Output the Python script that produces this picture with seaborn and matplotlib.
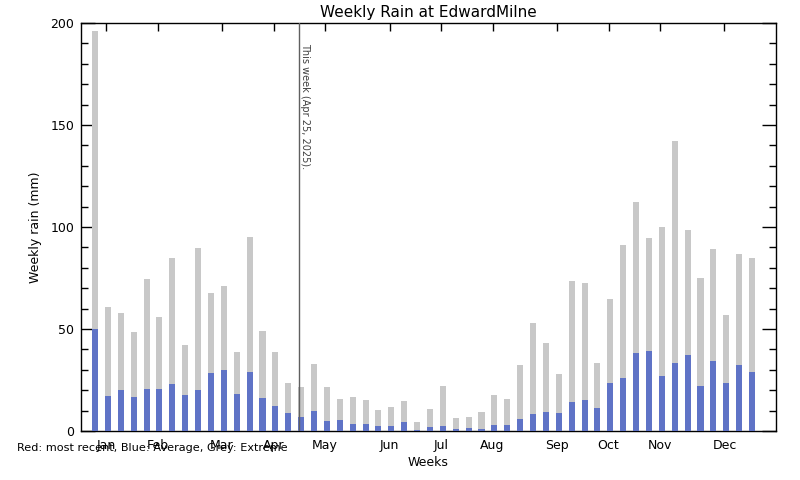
import matplotlib
matplotlib.use("Agg")
import matplotlib.pyplot as plt
from matplotlib.ticker import MultipleLocator
import seaborn as sns
import pandas as pd

weeks = list(range(1, 53))
extreme = [196, 61, 58, 48.5, 74.5, 56, 85, 42, 89.7, 67.6, 71, 38.7, 95, 49, 38.7, 23.5,
           21.6, 32.8, 21.6, 15.7, 16.7, 15.2, 10.3, 11.8, 14.7, 4.4, 10.8, 22.1, 6.4, 6.9,
           9.3, 17.6, 15.7, 32.4, 52.9, 43.1, 27.9, 73.5, 72.5, 33.3, 64.7, 91.2, 112.3,
           94.6, 100, 142.2, 98.5, 75, 89.2, 56.9, 86.8, 84.8]
average = [50, 17.2, 20.1, 16.7, 20.6, 20.6, 23, 17.6, 20.1, 28.4, 29.9, 18.1, 28.9, 16.2,
           12.3, 8.8, 6.9, 9.8, 4.9, 5.4, 3.4, 3.4, 2.5, 2.5, 4.4, 0.5, 2.0, 2.5, 1.0, 1.5,
           1.0, 2.9, 2.9, 5.9, 8.3, 9.3, 8.8, 14.2, 15.2, 11.3, 23.5, 26.0, 38.2, 39.2, 27.0,
           33.3, 37.3, 22.1, 34.3, 23.5, 32.4, 28.9]
month_labels = ["Jan", "Feb", "Mar", "Apr", "May", "Jun", "Jul", "Aug", "Sep", "Oct", "Nov", "Dec"]
month_weeks = [2, 6, 11, 15, 19, 24, 28, 32, 37, 41, 45, 50]
this_week = 16.84
this_week_label = "This week (Apr 25, 2025)."

df = pd.DataFrame({"week": weeks, "extreme": extreme, "average": average})

sns.set_theme(style="ticks")
plt.rcParams["font.family"] = ["DejaVu Sans"]
plt.rcParams["text.color"] = "black"
plt.rcParams["xtick.labelcolor"] = "black"
plt.rcParams["ytick.labelcolor"] = "black"

fig = plt.figure(figsize=(8, 4.8), dpi=100)
ax = fig.add_axes([81 / 800, 1 - 431 / 480, (776 - 81) / 800, (431 - 23) / 480])

sns.barplot(data=df, x="week", y="extreme", native_scale=True, width=0.47,
            color="#c8c8c8", saturation=1, errorbar=None, ax=ax, zorder=2, linewidth=0)
sns.barplot(data=df, x="week", y="average", native_scale=True, width=0.47,
            color="#5f73c6", saturation=1, errorbar=None, ax=ax, zorder=3, linewidth=0)

ax.set_xlim(-0.09, 53.86)
ax.set_ylim(0, 200)
ax.set_xticks([w - 0.14 for w in month_weeks])
ax.set_xticklabels(month_labels)
ax.yaxis.set_major_locator(MultipleLocator(50))
ax.yaxis.set_minor_locator(MultipleLocator(10))
ax.tick_params(axis="y", which="major", direction="in", length=10, width=1,
               left=True, right=True, labelsize=9, pad=5, color="black", labelcolor="black")
ax.tick_params(axis="y", which="minor", direction="in", length=5, width=1,
               left=True, right=True, color="black")
ax.tick_params(axis="x", which="major", direction="in", length=6, width=1,
               bottom=True, top=True, labelsize=9, pad=6, color="black", labelcolor="black")
ax.tick_params(axis="x", which="minor", bottom=False, top=False)
for s in ax.spines.values():
    s.set_visible(True)
    s.set_color("black")
    s.set_linewidth(1)

ax.axvline(this_week, color="#606060", linewidth=1, zorder=4)
ax.text(this_week + 0.1, 190, this_week_label, rotation=270, ha="left", va="top",
        fontsize=7, color="#404040")

ax.set_xlabel("")
ax.set_ylabel("")
fig.text(428.5 / 800, 1 - 462 / 480, "Weeks", ha="center", va="center", fontsize=9)
fig.text(36 / 800, 1 - 227 / 480, "Weekly rain (mm)", ha="center", va="center",
         rotation=90, fontsize=9)
fig.text(428.5 / 800, 1 - 12 / 480, "Weekly Rain at EdwardMilne", ha="center",
         va="center", fontsize=11)
fig.text(17 / 800, 1 - 448 / 480, "Red: most recent, Blue: Average, Grey: Extreme",
         ha="left", va="center", fontsize=8.1)

fig.savefig("out.png", dpi=100)
